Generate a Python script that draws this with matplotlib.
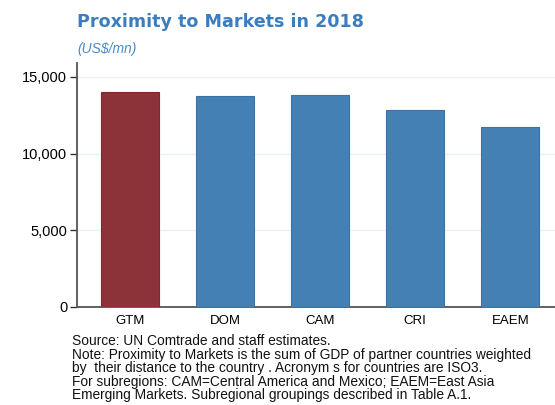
import numpy as np
import matplotlib.pyplot as plt
from matplotlib.ticker import FuncFormatter

countries = ['GTM', 'DOM', 'CAM', 'CRI', 'EAEM']
proximity = [14050, 13780, 13800, 12820, 11750]
bar_colors = ['#8b3339', '#4580b4', '#4580b4', '#4580b4', '#4580b4']
edge_colors = ['#7a2a30', '#3a72a3', '#3a72a3', '#3a72a3', '#3a72a3']

notes = [
    'Source: UN Comtrade and staff estimates.',
    'Note: Proximity to Markets is the sum of GDP of partner countries weighted',
    'by  their distance to the country . Acronym s for countries are ISO3.',
    'For subregions: CAM=Central America and Mexico; EAEM=East Asia',
    'Emerging Markets. Subregional groupings described in Table A.1.',
]

plt.rcParams['font.family'] = ['Liberation Sans', 'DejaVu Sans']

fig = plt.figure(figsize=(5.55, 4.05), dpi=100)
ax = fig.add_axes([0.1387, 0.242, 0.8613, 0.602])

x = np.arange(len(countries))
ax.bar(x, proximity, width=0.61, color=bar_colors, edgecolor=edge_colors,
       linewidth=0.8, zorder=3)

ax.set_xlim(-0.558, 4.47)
ax.set_ylim(0, 15900)
ax.set_yticks([0, 5000, 10000, 15000])
ax.yaxis.set_major_formatter(FuncFormatter(lambda v, p: '{:,.0f}'.format(v)))
ax.set_xticks(x)
ax.set_xticklabels(countries)
ax.grid(axis='y', color='#e6f0f6', linewidth=0.9, zorder=0)

for side in ['top', 'right']:
    ax.spines[side].set_visible(False)
ax.spines['left'].set_color('#555555')
ax.spines['bottom'].set_color('#555555')
ax.spines['left'].set_linewidth(1.3)
ax.spines['bottom'].set_linewidth(1.3)
ax.tick_params(axis='y', length=5, width=1, color='#333333', labelsize=10.5, pad=2)
ax.tick_params(axis='x', length=0, labelsize=9.5, pad=6)

fig.text(0.139, 0.945, 'Proximity to Markets in 2018', color='#3b7dbd',
         fontsize=12.6, fontweight='bold', ha='left', va='center',
         family='DejaVu Sans')
fig.text(0.139, 0.88, '(US$/mn)', color='#4a8ac6', fontsize=10,
         style='italic', ha='left', va='center')

y0 = 0.157
for i, line in enumerate(notes):
    fig.text(0.13, y0 - i * 0.0330, line, fontsize=9.9, color='#111111',
             ha='left', va='center')

fig.savefig('out.png', dpi=100)
